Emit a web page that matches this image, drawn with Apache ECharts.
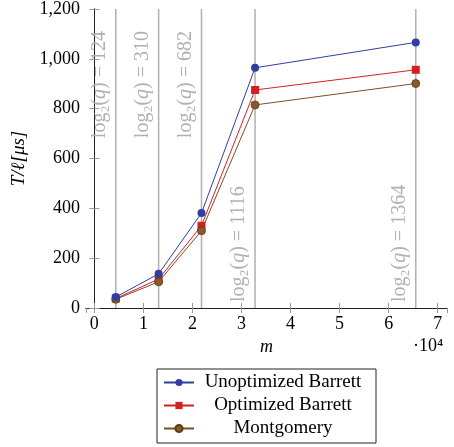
<!DOCTYPE html>
<html>
<head>
<meta charset="utf-8">
<script src="https://cdn.jsdelivr.net/npm/echarts@6/dist/echarts.min.js"></script>
<style>
  html, body { margin: 0; padding: 0; background: #fff; }
  #chart { width: 454px; height: 447px; }
</style>
</head>
<body>
<div id="chart"></div>
<script>
// values
var mValues = [4369, 13107, 21845, 32767, 65535];
var unoptimized = [44, 137, 381, 964, 1066];
var optimized = [38, 116, 330, 875, 956];
var montgomery = [35, 105, 310, 815, 901];
var logQ = [124, 310, 682, 1116, 1364];
var logQPlace = ['top', 'top', 'top', 'bottom', 'bottom'];
var yTicks = [0, 200, 400, 600, 800, 1000, 1200];

var serif = '"Liberation Serif", "DejaVu Serif", serif';
var gray = '#b0b0b0';

var markers = [];
for (var i = 0; i < mValues.length; i++) {
    markers.push([mValues[i], logQ[i], logQPlace[i]]);
}

function pairs(ys) {
    return mValues.map(function (m, i) { return [m, ys[i]]; });
}

var myChart = echarts.init(document.getElementById('chart'));

var xBase = {
    type: 'value',
    min: -1700,
    max: 71900,
    splitNumber: 7,
    splitLine: { show: false },
    axisLine: { lineStyle: { color: '#222', width: 1 } },
    axisTick: { inside: true, length: 5, lineStyle: { color: '#999' } }
};

var yBase = {
    type: 'value',
    min: yTicks[0],
    max: yTicks[yTicks.length - 1],
    interval: 200,
    splitLine: { show: false },
    axisLine: { show: true, lineStyle: { color: '#222', width: 1 } },
    axisTick: { show: true, inside: true, length: 5, lineStyle: { color: '#999' } }
};

myChart.setOption({
    animation: false,
    grid: { left: 86, top: 8, width: 361, height: 300 },
    xAxis: [
        Object.assign({}, xBase, {
            position: 'bottom',
            name: 'm',
            nameLocation: 'middle',
            nameGap: 29,
            nameTextStyle: { fontFamily: serif, fontSize: 18, fontStyle: 'italic', color: '#000' },
            axisLabel: {
                showMinLabel: false,
                showMaxLabel: false,
                margin: 7,
                fontFamily: serif,
                fontSize: 18,
                color: '#000',
                formatter: function (v) {
                    return v % 10000 === 0 ? String(v / 10000) : '';
                }
            }
        }),
        Object.assign({}, xBase, {
            position: 'top',
            axisLabel: { show: false }
        })
    ],
    yAxis: [
        Object.assign({}, yBase, {
            position: 'left',
            name: 'T/ℓ[μs]',
            nameLocation: 'middle',
            nameGap: 49,
            nameTextStyle: { fontFamily: serif, fontSize: 19, fontStyle: 'italic', color: '#000' },
            axisLabel: { margin: 6, fontFamily: serif, fontSize: 18, color: '#000' }
        }),
        Object.assign({}, yBase, {
            position: 'right',
            axisLabel: { show: false }
        })
    ],
    legend: {
        orient: 'vertical',
        left: 157,
        top: 369,
        padding: [4, 9, 5, 6],
        itemGap: 4,
        itemWidth: 30,
        itemHeight: 9,
        borderColor: '#222',
        borderWidth: 1,
        backgroundColor: '#fff',
        data: ['Unoptimized Barrett', 'Optimized Barrett', 'Montgomery'],
        formatter: function (name) { return '{t|' + name + '}'; },
        textStyle: {
            rich: {
                t: { width: 168, align: 'center', fontFamily: serif, fontSize: 19, color: '#000', lineHeight: 20 }
            }
        }
    },
    graphic: [{
        type: 'text',
        left: 413,
        top: 337,
        style: { text: '·10⁴', fontFamily: serif, fontSize: 18, fill: '#000' }
    }],
    series: [
        {
            type: 'custom',
            name: 'log2q',
            data: markers,
            silent: true,
            z: 1,
            renderItem: function (params, api) {
                var x = api.value(0);
                var top = api.coord([x, 1200]);
                var bottom = api.coord([x, 0]);
                var place = logQPlace[params.dataIndex];
                var label = '{r|log₂(}{i|q}{r|) = ' + api.value(1) + '}';
                var textY = place === 'top' ? top[1] + 22 : bottom[1] - 6;
                return {
                    type: 'group',
                    children: [{
                        type: 'line',
                        shape: { x1: top[0], y1: top[1], x2: bottom[0], y2: bottom[1] },
                        style: { stroke: gray, lineWidth: 1.5 }
                    }, {
                        type: 'text',
                        x: top[0] - 16,
                        y: textY,
                        rotation: Math.PI / 2,
                        style: {
                            text: label,
                            fontFamily: serif,
                            fontSize: 20,
                            fill: gray,
                            align: place === 'top' ? 'right' : 'left',
                            verticalAlign: 'middle',
                            rich: {
                                r: { fontFamily: serif, fontSize: 20, fill: gray },
                                i: { fontFamily: serif, fontSize: 20, fontStyle: 'italic', fill: gray }
                            }
                        }
                    }]
                };
            }
        },
        {
            type: 'line',
            name: 'Unoptimized Barrett',
            data: pairs(unoptimized),
            symbol: 'circle',
            symbolSize: 8,
            z: 4,
            lineStyle: { color: '#2f3ea0', width: 1 },
            itemStyle: { color: '#2f3ea0' }
        },
        {
            type: 'line',
            name: 'Optimized Barrett',
            data: pairs(optimized),
            symbol: 'rect',
            symbolSize: 8,
            z: 3,
            lineStyle: { color: '#d42020', width: 1 },
            itemStyle: { color: '#d42020' }
        },
        {
            type: 'line',
            name: 'Montgomery',
            data: pairs(montgomery),
            symbol: 'circle',
            symbolSize: 8,
            z: 3,
            lineStyle: { color: '#7a4f25', width: 1 },
            itemStyle: { color: '#8a5a2a', borderColor: '#5a3a18', borderWidth: 0.8 }
        }
    ]
});
</script>
</body>
</html>
